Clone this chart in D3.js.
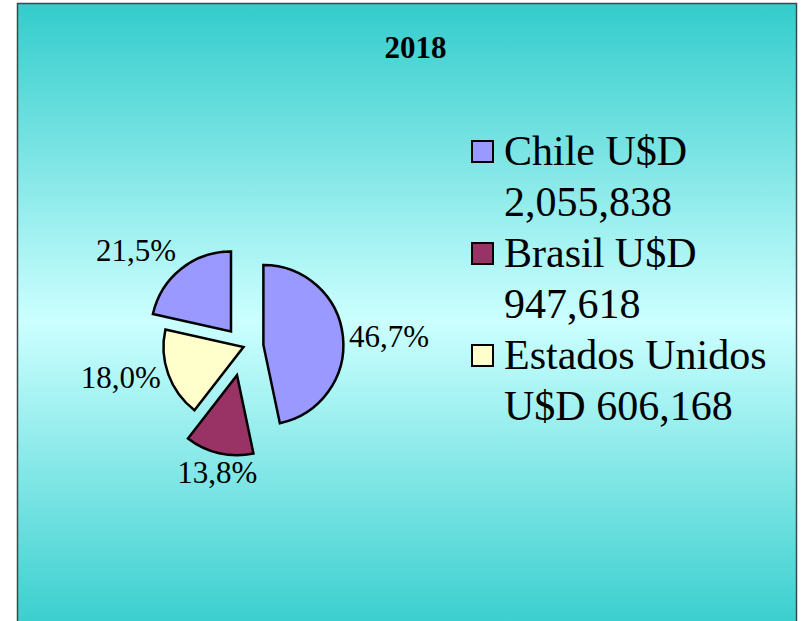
<!DOCTYPE html>
<html>
<head>
<meta charset="utf-8">
<script src="https://cdnjs.cloudflare.com/ajax/libs/d3/7.8.5/d3.min.js"></script>
<style>
  body { margin: 0; background: #fff; }
  text { font-family: "Liberation Serif", "Times New Roman", serif; fill: #000; }
</style>
</head>
<body>
<div id="chart"></div>
<script>
// slice shares as printed on the chart (clockwise from 12 o'clock)
var sliceValues = [46.7, 13.8, 18.0, 21.5];
var sliceLabels = ["46,7%", "13,8%", "18,0%", "21,5%"];
var sliceColours = ["#9999FF", "#993366", "#FFFFCC", "#9999FF"];
// how far each slice is pulled out
var sliceExplode = [20, 29, 0, 20];

// legend
var legendNames = [["Chile U$D", "2,055,838"], ["Brasil U$D", "947,618"], ["Estados Unidos", "U$D 606,168"]];
var legendColours = ["#9999FF", "#993366", "#FFFFCC"];

var title = "2018";

var width = 801, height = 621;
var cx = 243.5, cy = 347, radius = 80;

var svg = d3.select("#chart").append("svg")
    .attr("width", width)
    .attr("height", height);

// background gradient
var grad = svg.append("defs").append("linearGradient")
    .attr("id", "bg")
    .attr("x1", 0).attr("y1", 0).attr("x2", 0).attr("y2", 1);
grad.append("stop").attr("offset", "0%").attr("stop-color", "#33CCCC");
grad.append("stop").attr("offset", "50%").attr("stop-color", "#CCFFFF");
grad.append("stop").attr("offset", "100%").attr("stop-color", "#33CCCC");

svg.append("rect")
    .attr("x", 17.5).attr("y", 3.5)
    .attr("width", 779).attr("height", 636)
    .attr("fill", "url(#bg)")
    .attr("stroke", "#3a4a4a")
    .attr("stroke-width", 1.5);

// title
svg.append("text")
    .attr("x", 415.5).attr("y", 58)
    .attr("text-anchor", "middle")
    .style("font-size", "31px")
    .style("font-weight", "bold")
    .text(title);

// pie
var sliceMaker = d3.pie().sort(null).value(function (d) { return d; });
var arcs = sliceMaker(sliceValues);

var path = d3.arc().innerRadius(0).outerRadius(radius);

var pieG = svg.append("g").attr("transform", "translate(" + cx + "," + cy + ")");

function mid(d) { return (d.startAngle + d.endAngle) / 2; }

pieG.selectAll("path.slice")
    .data(arcs)
    .enter()
    .append("path")
    .attr("class", "slice")
    .attr("d", path)
    .attr("transform", function (d, i) {
        var a = mid(d), e = sliceExplode[i];
        return "translate(" + (Math.sin(a) * e) + "," + (-Math.cos(a) * e) + ")";
    })
    .attr("fill", function (d, i) { return sliceColours[i]; })
    .attr("stroke", "#000")
    .attr("stroke-width", 2.5)
    .attr("stroke-linejoin", "miter");

// labels just outside each slice
var labelSize = 31;
pieG.selectAll("text.lbl")
    .data(arcs)
    .enter()
    .append("text")
    .attr("class", "lbl")
    .style("font-size", labelSize + "px")
    .each(function (d, i) {
        var a = mid(d);
        var ux = Math.sin(a), uy = -Math.cos(a);
        var r = sliceExplode[i] + radius + 8;
        var px = ux * r, py = uy * r;
        var anchor = ux < -0.3 ? "end" : (ux > 0.3 ? "start" : "middle");
        var by;
        if (uy < -0.5) by = py - 2;
        else if (uy > 0.5) by = py + labelSize * 0.72;
        else by = py + labelSize * 0.35;
        d3.select(this)
            .attr("x", ux > 0.3 ? px - 2 : px)
            .attr("y", by)
            .attr("text-anchor", anchor)
            .text(sliceLabels[i]);
    });

// legend
var legend = svg.append("g").attr("transform", "translate(471,165)");
var item = legend.selectAll("g.item")
    .data(legendNames)
    .enter()
    .append("g")
    .attr("class", "item")
    .attr("transform", function (d, i) { return "translate(0," + (i * 102) + ")"; });

item.append("rect")
    .attr("x", 1).attr("y", -24)
    .attr("width", 21).attr("height", 21)
    .attr("fill", function (d, i) { return legendColours[i]; })
    .attr("stroke", "#000")
    .attr("stroke-width", 2);

item.selectAll("text")
    .data(function (d) { return d; })
    .enter()
    .append("text")
    .attr("x", 33)
    .attr("y", function (d, j) { return j * 51; })
    .style("font-size", "42px")
    .text(function (d) { return d; });
</script>
</body>
</html>
